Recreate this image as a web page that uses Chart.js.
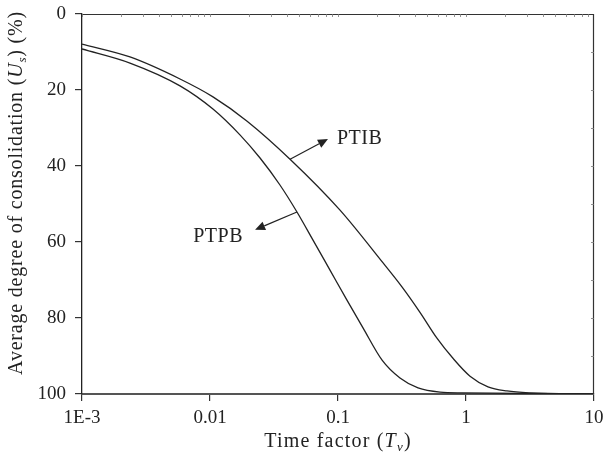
<!DOCTYPE html>
<html>
<head>
<meta charset="utf-8">
<script src="https://cdn.jsdelivr.net/npm/chart.js@4/dist/chart.umd.min.js"></script>
<style>
  html, body { margin: 0; padding: 0; background: #fff; }
  #wrap { width: 605px; height: 464px; }
</style>
</head>
<body>
<div id="wrap"><canvas id="c" width="605" height="464"></canvas></div>
<script>
// ---- data ----
const xTickValues = [0.001, 0.01, 0.1, 1, 10];
const xTickLabels = ['1E-3', '0.01', '0.1', '1', '10'];
const yTickValues = [0, 20, 40, 60, 80, 100];

const ptibT = [0.001, 0.00237, 0.00583, 0.01055, 0.0195, 0.0422, 0.1037, 0.225, 0.316, 0.437, 0.593, 0.791, 1.075, 1.485, 2.09, 3.16, 10];
const ptibU = [7.9, 11.3, 17.1, 21.8, 28.2, 38.2, 51.6, 65.5, 71.8, 78.5, 85.3, 90.6, 95.3, 98.1, 99.2, 99.7, 100];

const ptpbT = [0.001, 0.00237, 0.00583, 0.01055, 0.01714, 0.0246, 0.0352, 0.0478, 0.0638, 0.0866, 0.1175, 0.1568, 0.221, 0.305, 0.422, 0.626, 0.947, 10];
const ptpbU = [9.2, 12.9, 18.9, 25.0, 31.8, 37.9, 45.0, 52.1, 59.5, 67.4, 75.3, 82.6, 91.1, 95.8, 98.4, 99.5, 99.7, 100];

// annotation anchors (data space)
const ptibNote = { text: 'PTIB', from: [0.0422, 38.2], to: [0.0835, 32.9], label: [0.098, 32.9], align: 'left' };
const ptpbNote = { text: 'PTPB', from: [0.0478, 52.1], to: [0.0225, 56.8], label: [0.0181, 58.7], align: 'right' };

const SERIF = "'Liberation Serif', 'DejaVu Serif', serif";
const INK = '#222';

function pts(t, u) { return t.map((v, i) => ({ x: v, y: u[i] })); }

const framePlugin = {
  id: 'frame',
  afterDraw(chart) {
    const ctx = chart.ctx, a = chart.chartArea;
    const xs = chart.scales.x, ys = chart.scales.y;
    ctx.save();
    ctx.strokeStyle = '#333';
    ctx.lineWidth = 1.2;
    ctx.beginPath();
    ctx.moveTo(a.left, a.top + 0.5); ctx.lineTo(a.right, a.top + 0.5);
    ctx.moveTo(a.right - 0.5, a.top); ctx.lineTo(a.right - 0.5, a.bottom);
    ctx.stroke();
    ctx.lineWidth = 0.8;
    ctx.strokeStyle = '#777';
    ctx.beginPath();
    for (let d = -3; d <= 0; d++) {
      for (let k = 1; k <= 9; k++) {
        const v = k * Math.pow(10, d);
        const px = Math.round(xs.getPixelForValue(v)) + 0.5;
        ctx.moveTo(px, a.top); ctx.lineTo(px, a.top + 3);
      }
    }
    for (let v = 10; v < 100; v += 10) {
      const py = Math.round(ys.getPixelForValue(v)) + 0.5;
      ctx.moveTo(a.right, py); ctx.lineTo(a.right - 3, py);
    }
    ctx.stroke();

    ctx.strokeStyle = INK; ctx.fillStyle = INK; ctx.lineWidth = 1.2;
    [ptibNote, ptpbNote].forEach(n => {
      const x1 = xs.getPixelForValue(n.from[0]), y1 = ys.getPixelForValue(n.from[1]);
      const x2 = xs.getPixelForValue(n.to[0]), y2 = ys.getPixelForValue(n.to[1]);
      const ang = Math.atan2(y2 - y1, x2 - x1);
      const hl = 10, hw = 4.5;
      const bx = x2 - hl * Math.cos(ang), by = y2 - hl * Math.sin(ang);
      ctx.beginPath(); ctx.moveTo(x1, y1); ctx.lineTo(bx, by); ctx.stroke();
      ctx.beginPath();
      ctx.moveTo(x2, y2);
      ctx.lineTo(bx + hw * Math.sin(ang), by - hw * Math.cos(ang));
      ctx.lineTo(bx - hw * Math.sin(ang), by + hw * Math.cos(ang));
      ctx.closePath(); ctx.fill();
      ctx.font = '20px ' + SERIF;
      ctx.letterSpacing = '0.5px';
      ctx.textAlign = n.align; ctx.textBaseline = 'middle';
      ctx.fillText(n.text, xs.getPixelForValue(n.label[0]), ys.getPixelForValue(n.label[1]));
    });

    function drawRich(parts, cx, cy) {
      let total = 0;
      parts.forEach(p => { ctx.font = p.font; p.w = ctx.measureText(p.t).width; total += p.w; });
      let x = cx - total / 2;
      ctx.textAlign = 'left'; ctx.textBaseline = 'alphabetic';
      parts.forEach(p => { ctx.font = p.font; ctx.fillText(p.t, x, cy + (p.dy || 0)); x += p.w; });
    }
    const N = '20px ' + SERIF, I = 'italic 20px ' + SERIF, S = 'italic 13px ' + SERIF;
    ctx.fillStyle = INK;
    ctx.letterSpacing = '1.2px';
    drawRich([
      { t: 'Time factor (', font: N },
      { t: 'T', font: I },
      { t: 'v', font: S, dy: 4 },
      { t: ')', font: N }
    ], (a.left + a.right) / 2, 447);

    ctx.letterSpacing = '0.8px';
    ctx.save();
    ctx.translate(22, 193);
    ctx.rotate(-Math.PI / 2);
    drawRich([
      { t: 'Average degree of consolidation (', font: N },
      { t: 'U', font: I },
      { t: 's', font: S, dy: 4 },
      { t: ') (%)', font: N }
    ], 0, 0);
    ctx.restore();
    ctx.restore();
  }
};

new Chart(document.getElementById('c'), {
  type: 'line',
  data: {
    datasets: [
      { label: 'PTIB', data: pts(ptibT, ptibU), borderColor: INK, borderWidth: 1.3, pointRadius: 0, fill: false, cubicInterpolationMode: 'monotone' },
      { label: 'PTPB', data: pts(ptpbT, ptpbU), borderColor: INK, borderWidth: 1.3, pointRadius: 0, fill: false, cubicInterpolationMode: 'monotone' }
    ]
  },
  options: {
    responsive: false,
    animation: false,
    layout: { padding: { top: 14, right: 11, left: 0, bottom: 0 } },
    plugins: { legend: { display: false }, tooltip: { enabled: false } },
    scales: {
      x: {
        type: 'logarithmic',
        min: 0.001, max: 10,
        afterBuildTicks(s) { s.ticks = xTickValues.map(v => ({ value: v, major: true })); },
        afterFit(s) { s.height = 70; s.paddingLeft = 0; s.paddingRight = 0; },
        ticks: {
          autoSkip: false, maxRotation: 0, padding: 6,
          color: INK, font: { family: SERIF, size: 19 },
          callback(v) { const i = xTickValues.indexOf(v); return i >= 0 ? xTickLabels[i] : ''; }
        },
        grid: { drawOnChartArea: false, drawTicks: true, tickLength: 7, color: '#333', lineWidth: 1.2 },
        border: { display: true, color: '#555', width: 2 }
      },
      y: {
        type: 'linear',
        reverse: true,
        min: 0, max: 100,
        afterBuildTicks(s) { s.ticks = yTickValues.map(v => ({ value: v })); },
        afterFit(s) { s.width = 82; s.paddingTop = 0; s.paddingBottom = 0; },
        ticks: { padding: 9, color: INK, font: { family: SERIF, size: 19 } },
        grid: { drawOnChartArea: false, drawTicks: true, tickLength: 7, color: '#333', lineWidth: 1.2 },
        border: { display: true, color: '#222', width: 1.3 }
      }
    }
  },
  plugins: [framePlugin]
});
</script>
</body>
</html>
